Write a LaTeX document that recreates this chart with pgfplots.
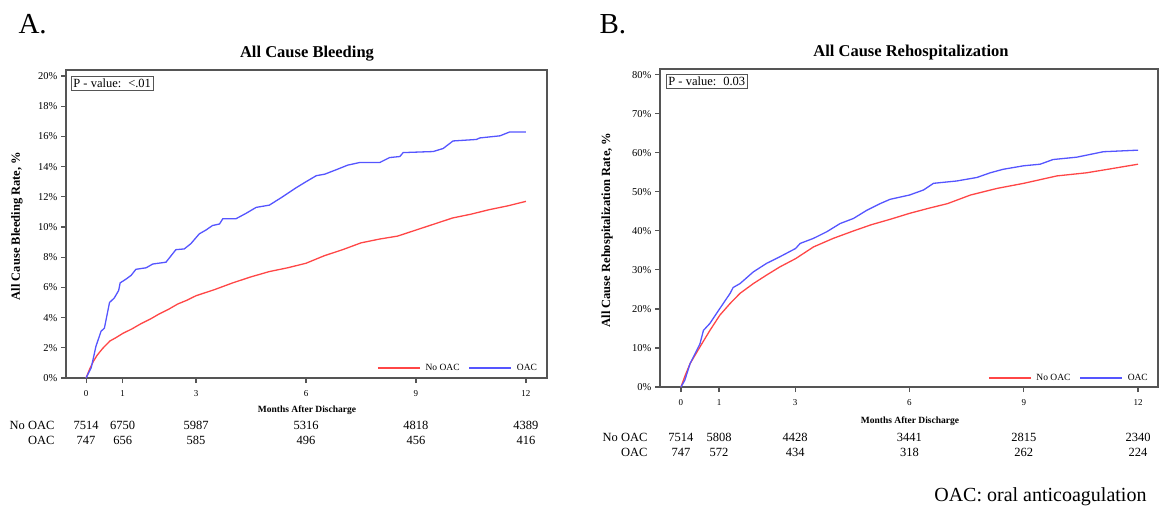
\documentclass[border=0pt]{standalone}
\usepackage{pgfplots}
\pgfplotsset{compat=1.18}
\usepackage{fontspec}
\setmainfont{Liberation Serif}
\definecolor{kmred}{RGB}{255,70,70}
\definecolor{kmblue}{RGB}{85,85,255}
\definecolor{frm}{RGB}{85,85,85}
\newcommand{\fs}[1]{\fontsize{#1}{#1}\selectfont}
\tikzset{risk/.style={font=\fs{12.5}},
  pbox/.style={draw=frm, line width=0.8pt, anchor=north west, inner xsep=2pt, inner ysep=2.5pt, font=\fs{12.5}}}
\pgfplotsset{
 kmaxis/.style={
  scale only axis, anchor=north west, clip=false,
  axis line style={draw=frm, line width=1.1pt},
  tick style={draw=frm, line width=1.1pt},
  tick align=outside, major tick length=5pt,
  xtick pos=left, ytick pos=left,
  xtick={0,1,3,6,9,12}, xticklabels={0,1,3,6,9,12},
  x tick label style={font=\fs{9}, yshift=-4pt},
  y tick label style={font=\fs{10.5}},
  legend style={draw=none, fill=none, legend columns=2, font=\fs{9.5},
    /tikz/every even column/.append style={column sep=7pt}},
  legend image code/.code={\draw[##1] (0pt,0pt) -- (42pt,0pt); \path (45pt,0pt);},
  ymin=0,
 },
 red line/.style={color=kmred, line width=1.3pt, no marks},
 blue line/.style={color=kmblue, line width=1.3pt, no marks},
}
\begin{document}
\begin{tikzpicture}
\path[use as bounding box] (0,0) rectangle (1166pt,-514pt);
% ---------- Panel A ----------
\node[font=\fs{29}, anchor=base west] at (15pt,-33pt) {A.};
\node[font=\bfseries\fs{16.5}] at (307pt,-54pt) {All Cause Bleeding};
\node[font=\bfseries\fs{12.5}, rotate=90] at (17pt,-226pt) {All Cause Bleeding Rate, \%};
\node[font=\bfseries\fs{9.5}] at (307pt,-410pt) {Months After Discharge};
\begin{axis}[kmaxis, at={(66pt,-70pt)}, width=481pt, height=308pt,
  xmin=-0.547, xmax=12.574, ymax=20.4,
  ytick={0,2,4,6,8,10,12,14,16,18,20},
  yticklabels={0\%,2\%,4\%,6\%,8\%,10\%,12\%,14\%,16\%,18\%,20\%},
  legend style={at={(axis description cs:0.99,0.032)}, anchor=east}]
\addplot[red line] coordinates {(0,0) (0.1,0.6) (0.2,1.1) (0.3,1.5) (0.45,1.95) (0.65,2.45) (0.8,2.65) (1,2.95) (1.25,3.25) (1.5,3.6) (1.75,3.9) (2,4.25) (2.25,4.55) (2.5,4.9) (2.75,5.15) (3,5.45) (3.5,5.85) (4,6.3) (4.5,6.7) (5,7.05) (5.5,7.3) (6,7.6) (6.5,8.1) (7,8.5) (7.5,8.95) (8,9.2) (8.5,9.4) (9,9.8) (9.5,10.2) (10,10.6) (10.5,10.85) (11,11.15) (11.5,11.4) (12,11.7)};
\addlegendentry{No OAC}
\addplot[blue line] coordinates {(0,0) (0.14,0.67) (0.27,2.1) (0.41,3.1) (0.5,3.3) (0.64,5.0) (0.77,5.3) (0.89,5.8) (0.93,6.3) (1.09,6.55) (1.23,6.8) (1.36,7.2) (1.64,7.3) (1.82,7.55) (2.18,7.67) (2.45,8.5) (2.68,8.55) (2.86,8.9) (3.09,9.55) (3.27,9.8) (3.45,10.1) (3.64,10.2) (3.73,10.55) (4.09,10.55) (4.36,10.9) (4.64,11.3) (5.0,11.45) (5.36,12.0) (5.73,12.6) (6.0,13.0) (6.28,13.4) (6.51,13.5) (6.83,13.8) (7.14,14.1) (7.46,14.27) (8.01,14.27) (8.28,14.6) (8.56,14.67) (8.65,14.93) (9.47,15.0) (9.74,15.2) (10.01,15.7) (10.65,15.8) (10.74,15.9) (11.29,16.04) (11.56,16.3) (12,16.3)};
\addlegendentry{OAC}
\node[pbox] at ([xshift=5pt,yshift=-6pt]rel axis cs:0,1) {P - value:\hspace{7pt}<.01};
\node[risk] at ([yshift=-47pt]axis cs:0,0) {7514};
\node[risk] at ([yshift=-47pt]axis cs:1,0) {6750};
\node[risk] at ([yshift=-47pt]axis cs:3,0) {5987};
\node[risk] at ([yshift=-47pt]axis cs:6,0) {5316};
\node[risk] at ([yshift=-47pt]axis cs:9,0) {4818};
\node[risk] at ([yshift=-47pt]axis cs:12,0) {4389};
\node[risk] at ([yshift=-62pt]axis cs:0,0) {747};
\node[risk] at ([yshift=-62pt]axis cs:1,0) {656};
\node[risk] at ([yshift=-62pt]axis cs:3,0) {585};
\node[risk] at ([yshift=-62pt]axis cs:6,0) {496};
\node[risk] at ([yshift=-62pt]axis cs:9,0) {456};
\node[risk] at ([yshift=-62pt]axis cs:12,0) {416};
\end{axis}
\node[risk, anchor=east] at (58pt,-425pt) {No OAC};
\node[risk, anchor=east] at (58pt,-440pt) {OAC};
% ---------- Panel B ----------
\node[font=\fs{29}, anchor=base west] at (596pt,-33pt) {B.};
\node[font=\bfseries\fs{16.5}] at (911pt,-53pt) {All Cause Rehospitalization};
\node[font=\bfseries\fs{12.5}, rotate=90] at (607pt,-230pt) {All Cause Rehospitalization Rate, \%};
\node[font=\bfseries\fs{9.5}] at (910pt,-421pt) {Months After Discharge};
\begin{axis}[kmaxis, at={(660pt,-69pt)}, width=498pt, height=318pt,
  xmin=-0.55, xmax=12.525, ymax=81.5,
  ytick={0,10,20,30,40,50,60,70,80},
  yticklabels={0\%,10\%,20\%,30\%,40\%,50\%,60\%,70\%,80\%},
  legend style={at={(axis description cs:0.99,0.028)}, anchor=east}]
\addplot[red line] coordinates {(0,0) (0.12,3.2) (0.24,6.0) (0.5,10.3) (0.76,14.5) (1.02,18.4) (1.29,21.4) (1.55,24.0) (1.9,26.5) (2.25,28.7) (2.6,30.8) (3.01,32.9) (3.48,35.9) (4.0,38.1) (4.53,40.0) (5.0,41.6) (5.5,43.0) (6,44.5) (6.5,45.8) (7,47.0) (7.6,49.2) (8.3,50.9) (9,52.2) (9.87,54.1) (10.65,54.9) (11.27,55.9) (12,57.1)};
\addlegendentry{No OAC}
\addplot[blue line] coordinates {(0,0) (0.1,1.7) (0.24,6.0) (0.5,11.1) (0.59,14.5) (0.76,16.3) (1.02,20.1) (1.29,24.0) (1.37,25.5) (1.55,26.5) (1.9,29.5) (2.25,31.7) (2.6,33.4) (3.01,35.5) (3.13,36.8) (3.48,38.1) (3.83,39.8) (4.18,41.9) (4.53,43.2) (4.88,45.3) (5.23,47.0) (5.49,48.1) (6.0,49.2) (6.37,50.5) (6.63,52.2) (7.24,52.8) (7.77,53.7) (8.12,54.9) (8.46,55.8) (9.0,56.7) (9.43,57.1) (9.77,58.3) (10.39,58.9) (11.09,60.3) (12,60.7)};
\addlegendentry{OAC}
\node[pbox] at ([xshift=6pt,yshift=-5pt]rel axis cs:0,1) {P - value:\hspace{7pt}0.03};
\node[risk] at ([yshift=-50pt]axis cs:0,0) {7514};
\node[risk] at ([yshift=-50pt]axis cs:1,0) {5808};
\node[risk] at ([yshift=-50pt]axis cs:3,0) {4428};
\node[risk] at ([yshift=-50pt]axis cs:6,0) {3441};
\node[risk] at ([yshift=-50pt]axis cs:9,0) {2815};
\node[risk] at ([yshift=-50pt]axis cs:12,0) {2340};
\node[risk] at ([yshift=-65pt]axis cs:0,0) {747};
\node[risk] at ([yshift=-65pt]axis cs:1,0) {572};
\node[risk] at ([yshift=-65pt]axis cs:3,0) {434};
\node[risk] at ([yshift=-65pt]axis cs:6,0) {318};
\node[risk] at ([yshift=-65pt]axis cs:9,0) {262};
\node[risk] at ([yshift=-65pt]axis cs:12,0) {224};
\end{axis}
\node[risk, anchor=east] at (651pt,-437pt) {No OAC};
\node[risk, anchor=east] at (651pt,-452pt) {OAC};
\node[font=\fs{20}, anchor=east] at (1150pt,-497pt) {OAC: oral anticoagulation};
\end{tikzpicture}
\end{document}
